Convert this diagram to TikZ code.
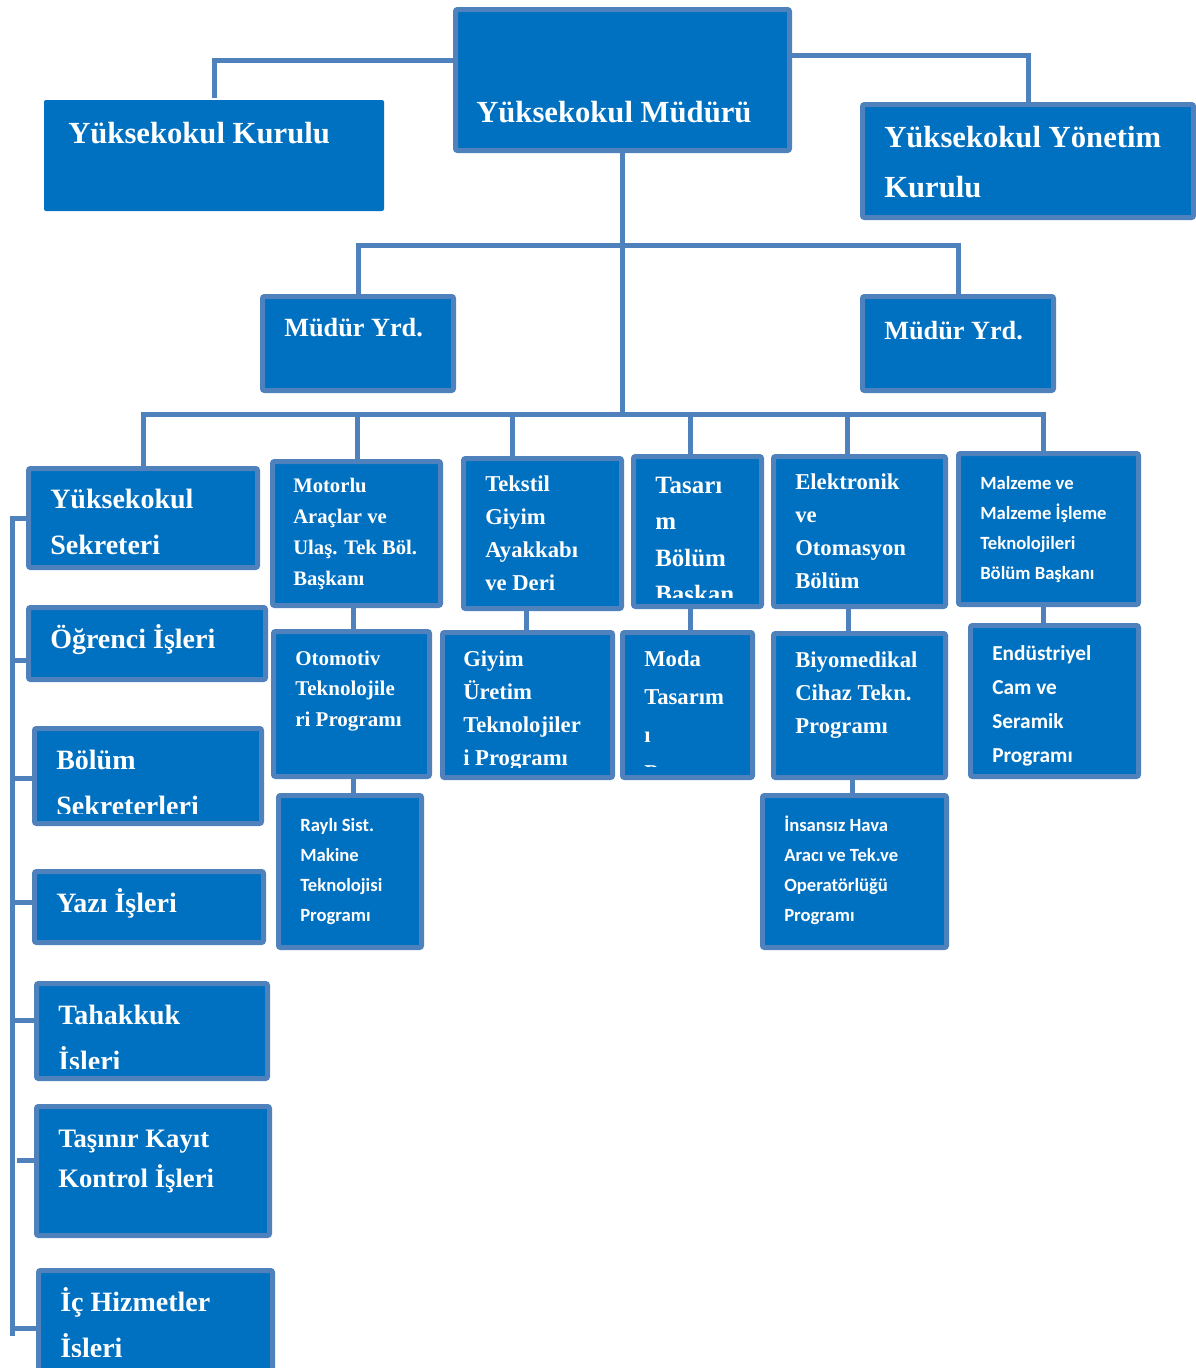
\documentclass[tikz,border=0pt]{standalone}
\usepackage{fontspec}
\setmainfont{Liberation Serif}
\newfontfamily\calsans{Carlito}
\usetikzlibrary{fit}
\definecolor{boxblue}{HTML}{0070C0}
\definecolor{lineblue}{HTML}{4F81BD}
\newcommand{\fsz}[2]{\fontsize{#1}{#2}\selectfont\bfseries}
\newcommand{\txtrows}[1]{\begin{tabular}[t]{@{}l@{}}#1\end{tabular}}
\tikzset{box/.style={draw=lineblue, fill=boxblue, line width=3.75pt, inner sep=0pt, rounded corners=1.5pt},
% connectors between the boxes
link/.style={draw=lineblue, line width=3.75pt},
lbl/.style={text=white, inner sep=0pt, anchor=base west}}

\begin{document}
\begin{tikzpicture}[x=0.75pt, y=-0.75pt]
        \useasboundingbox (0,0) rectangle (1196,1368);

        % top level
        \node[box, fit={(455.5,9.5) (789.5,150.5)}] (mudur) {};
        \node[box, draw=none, fit={(44,100) (384,211)}] (kurulu) {};
        \node[box, fit={(862.5,104.5) (1193.5,217.5)}] (yonetim) {};
        \node[box, fit={(262.5,296.5) (453.5,390.5)}] (myrd1) {};
        \node[box, fit={(862.5,296.5) (1053.5,390.5)}] (myrd2) {};

        % departments
        \node[box, fit={(28.5,468.5) (257.5,567.5)}] (sekreter) {};
        \node[box, fit={(272.5,461.5) (440.5,605.5)}] (motorlu) {};
        \node[box, fit={(463.5,458.5) (621.5,608.5)}] (tekstil) {};
        \node[box, fit={(633.5,456.5) (761.5,606.5)}] (tasarim) {};
        \node[box, fit={(773.5,456.5) (945.5,606.5)}] (elektronik) {};
        \node[box, fit={(958.5,453.5) (1138.5,604.5)}] (malzeme) {};

        % programs
        \node[box, fit={(273.5,631.5) (429.5,776.5)}] (otomotiv) {};
        \node[box, fit={(442.5,632.5) (612.5,777.5)}] (giyim) {};
        \node[box, fit={(622.5,632.5) (752.5,777.5)}] (moda) {};
        \node[box, fit={(773.5,633.5) (945.5,777.5)}] (biyomed) {};
        \node[box, fit={(970.5,625.5) (1138.5,776.5)}] (endustri) {};
        \node[box, fit={(278.5,795.5) (421.5,947.5)}] (rayli) {};
        \node[box, fit={(762.5,795.5) (946.5,947.5)}] (insansiz) {};

        % offices
        \node[box, fit={(28.5,607.5) (265.5,679.5)}] (ogrenci) {};
        \node[box, fit={(34.5,728.5) (261.5,823.5)}] (bolumsek) {};
        \node[box, fit={(34.5,871.5) (263.5,942.5)}] (yazi) {};
        \node[box, fit={(36.5,983.5) (267.5,1078.5)}] (tahakkuk) {};
        \node[box, fit={(36.5,1106.5) (269.5,1235.5)}] (tasinir) {};
        \node[box, fit={(38.5,1270.5) (272.5,1374)}] (ic) {};

        % labels
        \node[lbl, font=\fsz{23}{37.5}] (mudur-t) at (476,122) {Yüksekokul Müdürü};
        \node[lbl, font=\fsz{23}{37.5}] (kurulu-t) at (68,143) {Yüksekokul Kurulu};
        \node[lbl, font=\fsz{23}{37.5}] (yonetim-t) at (884,147) {\txtrows{Yüksekokul Yönetim\\Kurulu}};
        \node[lbl, font=\fsz{19.7}{30}] (myrd1-t) at (284,336) {Müdür Yrd.};
        \node[lbl, font=\fsz{19.7}{30}] (myrd2-t) at (884,339) {Müdür Yrd.};
        \node[lbl, font=\fsz{21}{35}] (sekreter-t) at (50,508) {\txtrows{Yüksekokul\\Sekreteri}};
        \node[lbl, font=\fsz{15.5}{23.25}] (motorlu-t) at (293,492) {\txtrows{Motorlu\\Araçlar ve\\Ulaş. Tek Böl.\\Başkanı}};
        \node[lbl, font=\fsz{17}{24.75}] (tekstil-t) at (485,491) {\txtrows{Tekstil\\Giyim\\Ayakkabı\\ve Deri}};
        \node[lbl, font=\fsz{17}{24.75}] (elektronik-t) at (795,489) {\txtrows{Elektronik\\ve\\Otomasyon\\Bölüm}};
        \node[lbl, font=\calsans\fsz{14}{22.5}] (malzeme-t) at (980,489) {\txtrows{Malzeme ve\\Malzeme İşleme\\Teknolojileri\\Bölüm Başkanı}};
        \node[lbl, font=\fsz{21}{35}] (ogrenci-t) at (50,648) {Öğrenci İşleri};
        \node[lbl, font=\fsz{15.75}{23}] (otomotiv-t) at (295,665) {\txtrows{Otomotiv\\Teknolojile\\ri Programı}};
        \node[lbl, font=\fsz{17}{24.75}] (biyomed-t) at (795,667) {\txtrows{Biyomedikal\\Cihaz Tekn.\\Programı}};
        \node[lbl, font=\calsans\fsz{16}{25.5}] (endustri-t) at (992,660) {\txtrows{Endüstriyel\\Cam ve\\Seramik\\Programı}};
        \node[lbl, font=\calsans\fsz{14}{22.5}] (rayli-t) at (300,831) {\txtrows{Raylı Sist.\\Makine\\Teknolojisi\\Programı}};
        \node[lbl, font=\calsans\fsz{14}{22.5}] (insansiz-t) at (784,831) {\txtrows{İnsansız Hava\\Aracı ve Tek.ve\\Operatörlüğü\\Programı}};
        \node[lbl, font=\fsz{21}{35}] (yazi-t) at (56,912) {Yazı İşleri};
        \node[lbl, font=\fsz{20}{30}] (tasinir-t) at (58,1147) {\txtrows{Taşınır Kayıt\\Kontrol İşleri}};

        % labels cut off at the bottom of their box
        \begin{scope}
            \clip (631,454) rectangle (764,597);
            \node[lbl, font=\fsz{18.7}{27.4}] (tasarim-t) at (655,493) {\txtrows{Tasarı\\m\\Bölüm\\Başkan}};
        \end{scope}
        \begin{scope}
            \clip (440,630) rectangle (615,767);
            \node[lbl, font=\fsz{17}{24.75}] (giyim-t) at (463,666) {\txtrows{Giyim\\Üretim\\Teknolojiler\\i Programı}};
        \end{scope}
        \begin{scope}
            \clip (620,630) rectangle (755,766);
            \node[lbl, font=\fsz{17}{28.5}] (moda-t) at (644,666) {\txtrows{Moda\\Tasarım\\ı\\Programı}};
        \end{scope}
        \begin{scope}
            \clip (32,726) rectangle (264,813);
            \node[lbl, font=\fsz{21}{35}] (bolumsek-t) at (56,769) {\txtrows{Bölüm\\Sekreterleri}};
        \end{scope}
        \begin{scope}
            \clip (34,981) rectangle (270,1068);
            \node[lbl, font=\fsz{21}{35}] (tahakkuk-t) at (58,1024) {\txtrows{Tahakkuk\\İşleri}};
        \end{scope}
        \begin{scope}
            \clip (36,1268) rectangle (275,1356);
            \node[lbl, font=\fsz{21}{35}] (ic-t) at (60,1311) {\txtrows{İç Hizmetler\\İşleri}};
        \end{scope}

        % connectors
        \draw[link] (mudur.west |- 0,60) -| (kurulu.north);
        \draw[link] (mudur.east |- 0,55) -| (yonetim.north);
        \draw[link] (mudur.south) -- (mudur.south |- 0,414);
        \draw[link] (myrd1.north) |- (myrd2.north |- 0,245) -- (myrd2.north);
        \draw[link] (sekreter.north) |- (1043,414) -- (malzeme.north -| 1043,0);
        \foreach \nd/\px in {motorlu/357, tekstil/512, tasarim/690, elektronik/847}{
            \draw[link] (\px,414) -- (\nd.north -| \px,0);
        }
        \foreach \up/\dn/\px in {motorlu/otomotiv/353, tekstil/giyim/526, tasarim/moda/690, elektronik/biyomed/848, malzeme/endustri/1043, otomotiv/rayli/353, biyomed/insansiz/852}{
            \draw[link] (\up.south -| \px,0) -- (\dn.north -| \px,0);
        }

        % left spine
        \draw[link] (sekreter.west |- 0,518) -| (12,1336);
        \foreach \nd/\py in {ogrenci/660, bolumsek/778, yazi/902, tahakkuk/1020, ic/1328}{
            \draw[link] (12,\py) -- (\nd.west |- 0,\py);
        }
        \draw[link] (17,1160) -- (tasinir.west |- 0,1160);

    \end{tikzpicture}
\end{document}
